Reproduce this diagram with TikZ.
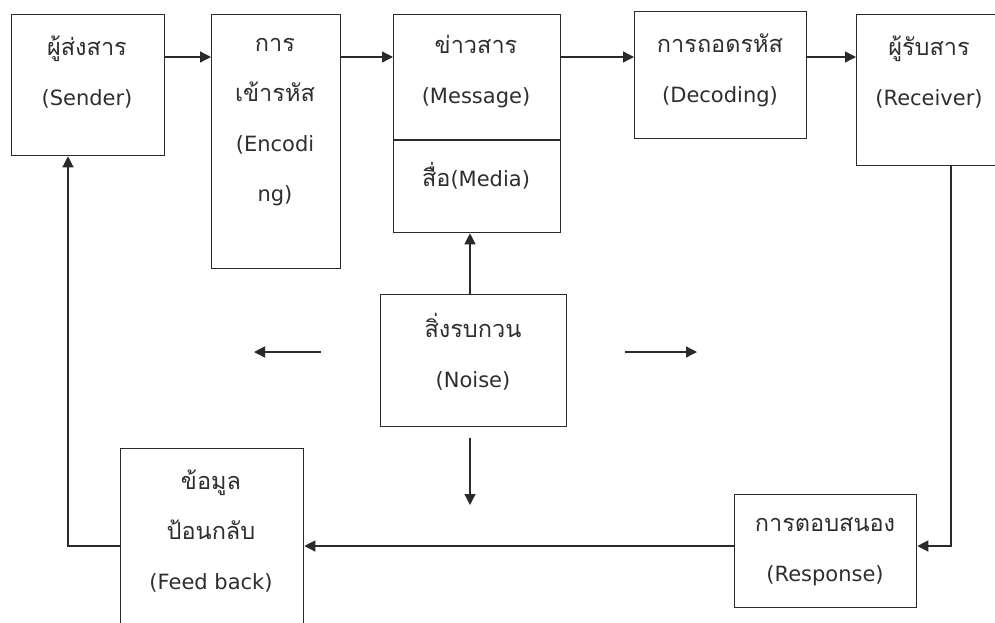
\documentclass[tikz,border=0pt]{standalone}
\usepackage{fontspec}
\setmainfont{DejaVu Sans}
\newfontfamily\thaifont[Script=Thai]{Loma}
\newcommand\thx[1]{{\thaifont\fontsize{23.5}{50}\selectfont #1}}
\usetikzlibrary{arrows.meta}
\definecolor{ln}{HTML}{2A2A2A}
\definecolor{tx}{HTML}{2E2E2E}
\tikzset{
  box/.style={draw=ln, line width=1.3pt, anchor=north west, inner sep=0pt},
  txt/.style={text=tx, align=center, font=\fontsize{21}{50}\selectfont},
  arr/.style={draw=ln, line width=1.3pt, -{Triangle[length=11pt,width=11pt]}},
  ln/.style={draw=ln, line width=1.3pt}
}
\begin{document}
\begin{tikzpicture}[x=1pt,y=-1pt]
\useasboundingbox (0,0) rectangle (995,622);
\clip (0,0) rectangle (995,622);
% boxes
\node[box, minimum width=153pt, minimum height=141pt] (sender) at (11,14) {};
\node[box, minimum width=129pt, minimum height=254pt] (enc) at (211,14) {};
\node[box, minimum width=167pt, minimum height=218pt] (msg) at (393,14) {};
\node[box, minimum width=172pt, minimum height=127pt] (dec) at (634,11) {};
\node[box, minimum width=150pt, minimum height=151pt] (rec) at (856,14) {};
\node[box, minimum width=186pt, minimum height=132pt] (noise) at (380,294) {};
\node[box, minimum width=183pt, minimum height=200pt] (fb) at (120,448) {};
\node[box, minimum width=182pt, minimum height=113pt] (resp) at (734,494) {};
\draw[ln] (msg.west |- 0,140) coordinate (mdl) -- (msg.east |- 0,140) coordinate (mdr);
% texts
\node[txt] (senderT) at (87,72) {\thx{ผู้ส่งสาร}\\(Sender)};
\node[txt] (encT) at (275,122) {\thx{การ}\\\thx{เข้ารหัส}\\(Encodi\\ng)};
\node[txt] (msgT) at (476,72) {\thx{ข่าวสาร}\\(Message)};
\node[txt] (mediaT) at (476,176) {\thx{สื่อ}(Media)};
\node[txt] (decT) at (720,70) {\thx{การถอดรหัส}\\(Decoding)};
\node[txt] (recT) at (929,72) {\thx{ผู้รับสาร}\\(Receiver)};
\node[txt] (noiseT) at (473,352) {\thx{สิ่งรบกวน}\\(Noise)};
\node[txt] (fbT) at (211,531) {\thx{ข้อมูล}\\\thx{ป้อนกลับ}\\(Feed back)};
\node[txt] (respT) at (825,552) {\thx{การตอบสนอง}\\(Response)};
% top chain
\draw[arr] (sender.east |- 0,57) -- (enc.west |- 0,57);
\draw[arr] (enc.east |- 0,57) -- (msg.west |- 0,57);
\draw[arr] (msg.east |- 0,57) -- (dec.west |- 0,57);
\draw[arr] (dec.east |- 0,57) -- (rec.west |- 0,57);
% noise arrows
\draw[arr] (noise.north -| 470,0) -- (msg.south -| 470,0);
\coordinate (nl1) at (321,352); \coordinate (nl2) at (254,352);
\coordinate (nr1) at (625,352); \coordinate (nr2) at (697,352);
\coordinate (nd1) at (470,438); \coordinate (nd2) at (470,505);
\draw[arr] (nl1) -- (nl2);
\draw[arr] (nr1) -- (nr2);
\draw[arr] (nd1) -- (nd2);
% receiver -> response
\coordinate (rdown) at (951,165);
\draw[arr] (rdown) |- (resp.east |- 0,546);
% response -> feedback
\draw[arr] (resp.west |- 0,546) -- (fb.east |- 0,546);
% feedback -> sender
\coordinate (fbl) at (68,546);
\draw[arr] (fb.west |- 0,546) -- (fbl) -- (sender.south -| 68,0);
\end{tikzpicture}
\end{document}
